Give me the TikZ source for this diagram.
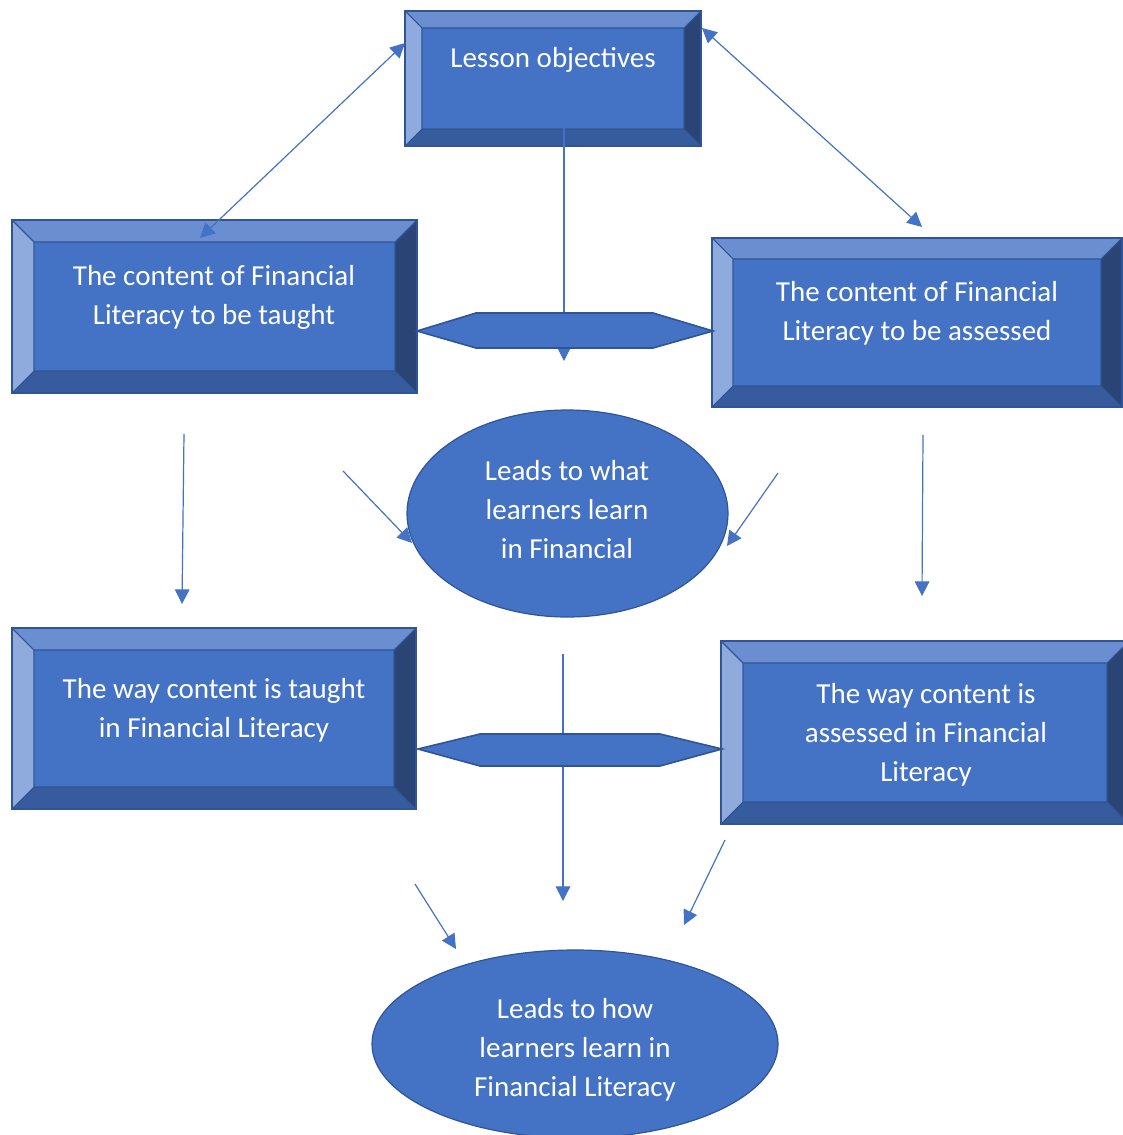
\documentclass[tikz,border=0pt]{standalone}
\usepackage{fontspec}
\setmainfont{Carlito}
\usetikzlibrary{arrows.meta,shapes.geometric,calc}
\definecolor{mainblue}{HTML}{4472C4}
\definecolor{bord}{HTML}{2F5597}
\definecolor{bevtop}{HTML}{6B8ED0}
\definecolor{bevleft}{HTML}{8FAADC}
\definecolor{bevbot}{HTML}{365C9E}
\definecolor{bevright}{HTML}{2A4476}
\tikzset{
  bevw/.store in=\bevw, bevw=22,
  bevbox/.style={draw=bord, line width=1.1pt, fill=mainblue, inner sep=0pt,
    path picture={
      \path (path picture bounding box.north west) coordinate (pnw)
            (path picture bounding box.north east) coordinate (pne)
            (path picture bounding box.south east) coordinate (pse)
            (path picture bounding box.south west) coordinate (psw);
      \path ($(pnw)+(\bevw,\bevw)$) coordinate (qnw)
            ($(pne)+(-\bevw,\bevw)$) coordinate (qne)
            ($(pse)+(-\bevw,-\bevw)$) coordinate (qse)
            ($(psw)+(\bevw,-\bevw)$) coordinate (qsw);
      \fill[bevtop] (pnw) -- (pne) -- (qne) -- (qnw) -- cycle;
      \fill[bevleft] (pnw) -- (qnw) -- (qsw) -- (psw) -- cycle;
      \fill[bevbot] (psw) -- (qsw) -- (qse) -- (pse) -- cycle;
      \fill[bevright] (pne) -- (pse) -- (qse) -- (qne) -- cycle;
      \draw[bord, line width=0.8pt] (qnw) rectangle (qse)
        (pnw) -- (qnw) (pne) -- (qne) (pse) -- (qse) (psw) -- (qsw);
    }},
  ell/.style={ellipse, draw=bord, line width=0.9pt, fill=mainblue, inner sep=0pt},
  txt/.style={text=white, align=center, inner sep=0pt, font=\fontsize{21.75pt}{29.25pt}\selectfont},
  hexa/.style={draw=bord, line width=1.2pt, fill=mainblue, line join=miter},
  conn/.style={draw=mainblue, line width=0.9pt, -{Triangle[length=11pt,width=11pt]}},
  dconn/.style={draw=mainblue, line width=0.9pt, {Triangle[length=11pt,width=11pt]}-{Triangle[length=11pt,width=11pt]}}
}
\begin{document}
\begin{tikzpicture}[x=0.75pt, y=-0.75pt]
\useasboundingbox (0,0) rectangle (1123,1135);
\fill[white] (0,0) rectangle (1123,1135);
\clip (0,0) rectangle (1123,1135);

% boxes
\node[bevbox, bevw=17, minimum width=222pt, minimum height=101.25pt] (lo) at (553,78.5) {};
\node[bevbox, bevw=22, minimum width=303.75pt, minimum height=129.75pt] (ct) at (214.5,306.5) {};
\node[bevbox, bevw=21, minimum width=307.5pt, minimum height=126.75pt] (ca) at (917,322.5) {};
\node[bevbox, bevw=22, minimum width=303pt, minimum height=135.75pt] (wt) at (214,718.5) {};
\node[bevbox, bevw=22, minimum width=306pt, minimum height=137.25pt] (wa) at (925,732.5) {};

\node[txt] (lot) at (553,60) {Lesson objectives};
\node[txt] (ctt) at (214,297) {The content of Financial\\Literacy to be taught};
\node[txt] (cat) at (917,313) {The content of Financial\\Literacy to be assessed};
\node[txt] (wtt) at (214,710) {The way content is taught\\in Financial Literacy};
\node[txt] (wat) at (926,735) {The way content is\\assessed in Financial\\Literacy};

% ellipses
\node[ell, minimum width=240.75pt, minimum height=155.25pt] (e1) at (567.5,513.5) {};
\node[ell, minimum width=304.5pt, minimum height=141pt] (e2) at (575,1044) {};
\node[txt] (e1t) at (567,510) {Leads to what\\learners learn\\in Financial};
\node[txt] (e2t) at (575,1050) {Leads to how\\learners learn in\\Financial Literacy};

% connector end points
\coordinate (a1s) at (200,238); \coordinate (a1e) at (405,43);
\coordinate (a2s) at (702,28);  \coordinate (a2e) at (922,227);
\coordinate (a3s) at (184,434); \coordinate (a3e) at (182,604);
\coordinate (a4s) at (923,435); \coordinate (a4e) at (922,596);
\coordinate (a5s) at (343,471); \coordinate (a5e) at (412,543);
\coordinate (a6s) at (778,473); \coordinate (a6e) at (727,546);
\coordinate (a7s) at (415,884); \coordinate (a7e) at (456,949);
\coordinate (a8s) at (563,654); \coordinate (a8e) at (563,901);
\coordinate (a9s) at (725,840); \coordinate (a9e) at (684,925);
\coordinate (a0s) at (564,127); \coordinate (a0e) at (564,361);

\draw[dconn] (a1s) -- (a1e);
\draw[dconn] (a2s) -- (a2e);
\draw[conn] (a3s) -- (a3e);
\draw[conn] (a4s) -- (a4e);
\draw[conn] (a5s) -- (a5e);
\draw[conn] (a6s) -- (a6e);
\draw[conn] (a7s) -- (a7e);
\draw[conn] (a8s) -- (a8e);
\draw[conn] (a9s) -- (a9e);
\draw[conn] (a0s) -- (a0e);

% hexagons
\draw[hexa] (417,331) -- (476,313) -- (653,313) -- (713,331) -- (653,348) -- (476,348) -- cycle;
\draw[hexa] (418,749) -- (480,734) -- (660,734) -- (722,749) -- (660,766) -- (480,766) -- cycle;
\end{tikzpicture}
\end{document}
